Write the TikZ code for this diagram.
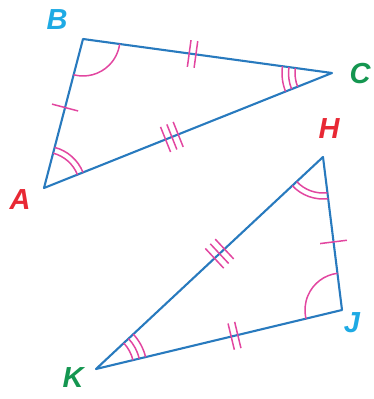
\documentclass[tikz,border=0pt]{standalone}
\usepackage{fontspec}
\setmainfont{Liberation Sans}
\usepackage{tikz}
\usetikzlibrary{angles, decorations.markings}

\definecolor{sideblue}{RGB}{40,122,190}
\definecolor{markpink}{RGB}{226,70,160}
\definecolor{labcyan}{RGB}{30,170,228}
\definecolor{labgreen}{RGB}{20,150,80}
\definecolor{labred}{RGB}{232,40,52}

\tikzset{
  side/.style={draw=sideblue, line width=2.1pt, line join=round},
  arcmark/.style={draw=markpink, line width=1.5pt},
  vlabel/.style={inner sep=0pt, font=\fontsize{29}{31}\selectfont\bfseries\itshape},
  tickone/.style={postaction={decorate}, decoration={markings, mark=at position #1 with {
      \draw[markpink, line width=1.5pt] (0,-13.5pt) -- (0,13.5pt);}}},
  ticktwo/.style={postaction={decorate}, decoration={markings, mark=at position #1 with {
      \draw[markpink, line width=1.5pt] (-3.4pt,-13.5pt) -- (-3.4pt,13.5pt)
        (3.4pt,-13.5pt) -- (3.4pt,13.5pt);}}},
  tickthree/.style={postaction={decorate}, decoration={markings, mark=at position #1 with {
      \draw[markpink, line width=1.5pt] (-6.8pt,-13.5pt) -- (-6.8pt,13.5pt)
        (0,-13.5pt) -- (0,13.5pt) (6.8pt,-13.5pt) -- (6.8pt,13.5pt);}}}
}

\begin{document}
\begin{tikzpicture}[x=1pt, y=1pt]
    \useasboundingbox (0,0) rectangle (374,399);

    % Tam giác ABC
    \coordinate (A) at (44,211);
    \coordinate (B) at (83,360);
    \coordinate (C) at (332,326);
    \draw[side] (A) -- (B) -- (C) -- cycle;
    \path[tickone=0.54] (A) -- (B);
    \path[ticktwo=0.44] (B) -- (C);
    \path[tickthree=0.444] (A) -- (C);
    \pic[arcmark, angle radius=36pt] {angle=C--A--B};
    \pic[arcmark, angle radius=42pt] {angle=C--A--B};
    \pic[arcmark, angle radius=37pt] {angle=A--B--C};
    \pic[arcmark, angle radius=37pt] {angle=B--C--A};
    \pic[arcmark, angle radius=43.5pt] {angle=B--C--A};
    \pic[arcmark, angle radius=50pt] {angle=B--C--A};

    % Tam giác HJK
    \coordinate (H) at (323,242);
    \coordinate (J) at (342,89);
    \coordinate (K) at (96,30);
    \draw[side] (H) -- (J) -- (K) -- cycle;
    \path[tickone=0.555] (H) -- (J);
    \path[ticktwo=0.563] (K) -- (J);
    \path[tickthree=0.544] (K) -- (H);
    \pic[arcmark, angle radius=36pt] {angle=K--H--J};
    \pic[arcmark, angle radius=42pt] {angle=K--H--J};
    \pic[arcmark, angle radius=37pt] {angle=H--J--K};
    \pic[arcmark, angle radius=38pt] {angle=J--K--H};
    \pic[arcmark, angle radius=44.5pt] {angle=J--K--H};
    \pic[arcmark, angle radius=51pt] {angle=J--K--H};

    % Tên các đỉnh
    \node[vlabel, labred] (lA) at (20,199) {A};
    \node[vlabel, labcyan] (lB) at (57,379) {B};
    \node[vlabel, labgreen] (lC) at (360,325) {C};
    \node[vlabel, labred] (lH) at (329,270) {H};
    \node[vlabel, labcyan] (lJ) at (352,76) {J};
    \node[vlabel, labgreen] (lK) at (73,21) {K};
\end{tikzpicture}
\end{document}
